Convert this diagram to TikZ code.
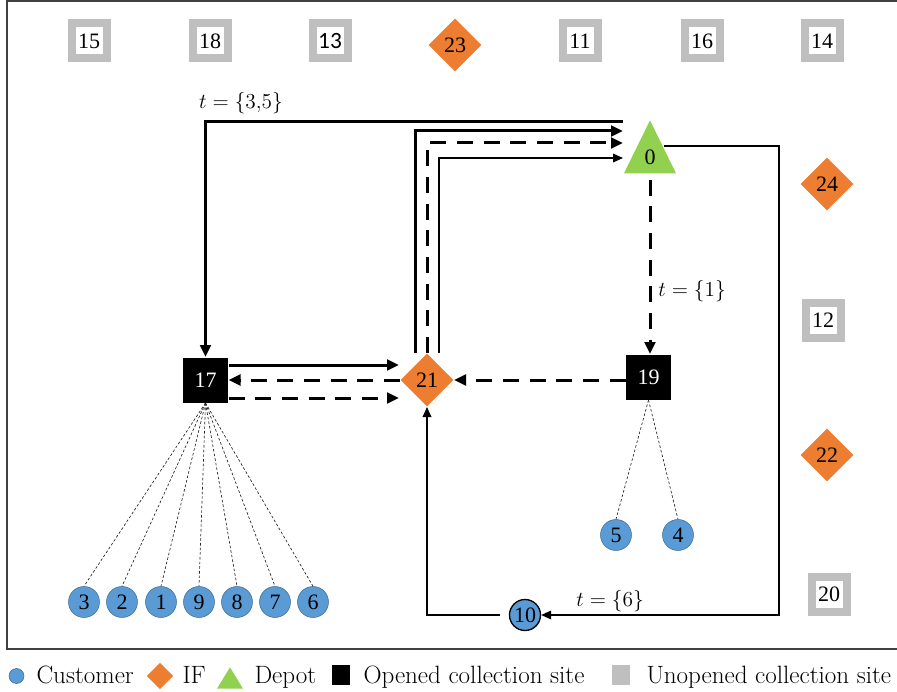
\RequirePackage{fix-cm}
\documentclass[tikz,border=0pt]{standalone}
\usepackage{fontspec}
\newfontfamily\numfont{Liberation Serif}
\newfontfamily\calfont{Carlito}
\usetikzlibrary{shapes.geometric,arrows.meta,calc}

\definecolor{ifcol}{RGB}{237,125,49}
\definecolor{custcol}{RGB}{91,155,213}
\definecolor{depcol}{RGB}{146,208,80}
\definecolor{sitegray}{RGB}{191,191,191}

\tikzset{every picture/.style={line width=0.75pt}}
\tikzset{
  numtext/.style={font=\numfont\fontsize{16.5}{16.5}\selectfont},
  unopened/.style={draw=sitegray, line width=6pt, fill=white, minimum size=26.25pt, inner sep=0pt, numtext},
  opened/.style={fill=black, text=white, minimum size=33.75pt, inner sep=0pt, numtext},
  ifsite/.style={diamond, fill=ifcol, minimum width=39.75pt, minimum height=39.75pt, inner sep=0pt, numtext},
  customer/.style={circle, fill=custcol, draw=custcol!70!black, line width=0.4pt, minimum size=23.25pt, inner sep=0pt, numtext},
  depot/.style={isosceles triangle, isosceles triangle stretches, shape border rotate=90, fill=depcol, minimum width=39pt, minimum height=39.75pt, inner sep=0pt, numtext},
  heavy/.style={line width=2.25pt},
  heavydash/.style={line width=2.25pt, dash pattern=on 12pt off 8pt},
  thinline/.style={line width=1pt},
  bigtip/.style={-{Triangle[length=9pt,width=8pt]}},
  midtip/.style={-{Triangle[length=7.5pt,width=6.5pt]}},
  fanline/.style={line width=0.5pt, dash pattern=on 2pt off 1.5pt, black!85},
  tlabel/.style={font=\fontsize{16}{16}\selectfont, inner sep=0.75pt},
  legendtext/.style={anchor=base west, inner sep=0pt, font=\fontsize{18.8}{18.8}\selectfont}
}

\begin{document}
\begin{tikzpicture}[x=0.75pt,y=0.75pt,yscale=-1,xscale=1]
\useasboundingbox (0,0) rectangle (897,692);

%Frame
\draw[black!75, line width=0.9pt] (7,1) rectangle (900,649);

%Unopened collection sites
\node[unopened] (s15) at (89,41) {15};
\node[unopened] (s18) at (210,41) {18};
\node[unopened, font=\calfont\fontsize{17.5}{17.5}\selectfont] (s13) at (330,41) {13};
\node[unopened] (s11) at (580,41) {11};
\node[unopened] (s16) at (702,41) {16};
\node[unopened] (s14) at (822,41) {14};
\node[unopened] (s12) at (823,320) {12};
\node[unopened] (s20) at (829,594) {20};

%IF
\node[ifsite] (n23) at (455,45) {23};
\node[ifsite] (n24) at (827,184) {24};
\node[ifsite] (n22) at (827,455) {22};
\node[ifsite] (n21) at (427,380) {21};

%Opened collection sites
\node[opened] (n17) at (205.5,380) {17};
\node[opened] (n19) at (648.5,377) {19};

%Depot
\node[depot, anchor=apex] (n0) at (650,119) {0};
\coordinate (d0a) at (623,122);
\coordinate (d0b) at (623,131);
\coordinate (d0c) at (623,143);
\coordinate (d0d) at (623,158);
\coordinate (d0e) at (664,146);
\coordinate (turn6) at (779,615);

%Customers
\foreach \c/\x in {3/84,2/122,1/161,9/199,8/237,7/275,6/313}
  \node[customer] (c\c) at (\x,602) {\c};
\node[customer] (c5) at (616,535) {5};
\node[customer] (c4) at (678,535) {4};
\node[customer, draw=black, line width=1pt] (c10) at (525,615) {10};

%Assignments
\foreach \c in {3,2,1,9,8,7,6}
  \draw[fanline] (n17.south) -- (c\c.north);
\foreach \c in {5,4}
  \draw[fanline] (n19.south) -- (c\c.north);

%Routes
\draw[heavy, bigtip] (d0a) -| (n17.north);
\draw[heavy, bigtip] ($(n17.east)+(0,-15)$) -- ($(n21.west)+(-1,-15)$);
\draw[heavydash, bigtip] (n21.west) -- (n17.east);
\draw[heavydash, bigtip] ($(n17.east)+(0,18)$) -- ($(n21.west)+(-1,18)$);
\draw[heavydash, bigtip] (n19.west |- n21.east) -- (n21.east);
\draw[heavydash, bigtip, shorten <=4.5pt] (n0.lower side) -- (n0.lower side |- n19.north);
\draw[heavy, bigtip] ($(n21.north)+(-12,0)$) |- (d0b);
\draw[heavydash, bigtip] (n21.north) |- (d0c);
\draw[thinline, midtip] ($(n21.north)+(12,0)$) |- (d0d);
\draw[thinline, midtip] (d0e) -| (turn6) -- (c10.east);
\draw[thinline, midtip, shorten <=7pt] (c10.west) -| (n21.south);

% Text Node
\node[tlabel] (t35) at (241,103) {$t=\{3{,}5\}$};
% Text Node
\node[tlabel] (t1) at (692,291) {$t=\{1\}$};
% Text Node
\node[tlabel] (t6) at (610,601) {$t=\{6\}$};

%Legend
\node[customer, minimum size=11.25pt] (lcust) at (16.5,676) {};
\node[legendtext] (lcustt) at (36,683) {Customer};
\node[ifsite, minimum width=20pt, minimum height=20pt] (lif) at (160,676) {};
\node[legendtext] (lift) at (182,683) {IF};
\node[depot, minimum width=19.5pt, minimum height=16pt, anchor=apex] (ldep) at (230,666) {};
\node[legendtext] (ldept) at (254,683) {Depot};
\node[fill=black, minimum width=13.5pt, minimum height=15pt, inner sep=0pt] (lopen) at (341,675) {};
\node[legendtext] (lopent) at (363,683) {Opened collection site};
\node[fill=sitegray, minimum width=13.5pt, minimum height=15pt, inner sep=0pt] (lunop) at (621,675) {};
\node[legendtext] (lunopt) at (646,683) {Unopened collection site};

\end{tikzpicture}
\end{document}
